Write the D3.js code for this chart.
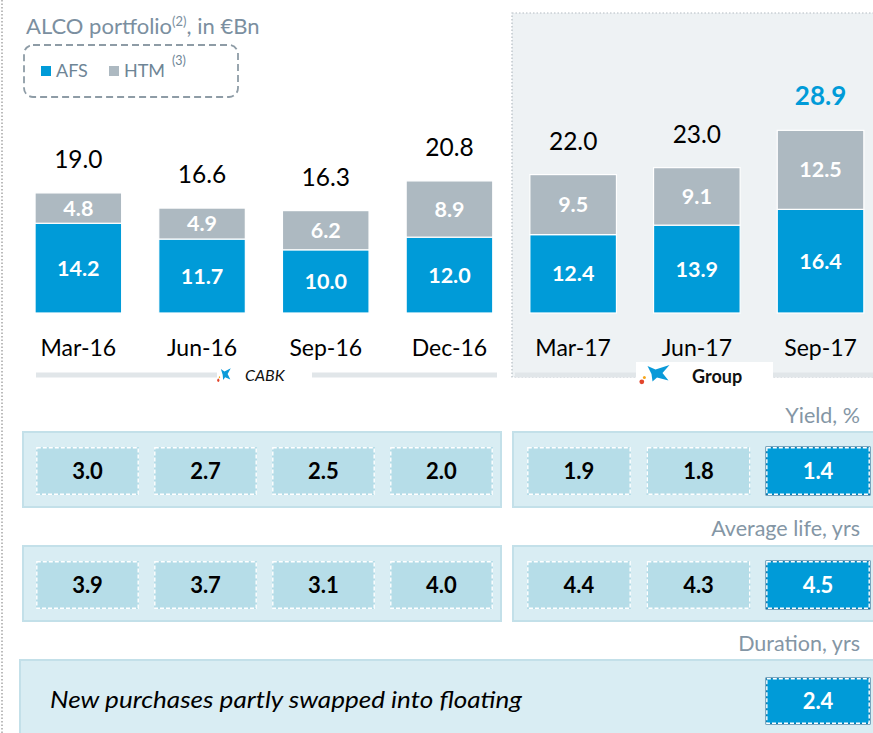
<!DOCTYPE html>
<html>
<head>
<meta charset="utf-8">
<script src="https://cdn.jsdelivr.net/npm/d3@7.9.0/dist/d3.min.js"></script>
<style>
  body { margin: 0; background: #fff; }
  svg { display: block; font-family: Lato, "Open Sans", sans-serif; }
</style>
</head>
<body>
<svg id="chart" width="873" height="733"></svg>
<script>
// data
const periods = ['Mar-16', 'Jun-16', 'Sep-16', 'Dec-16', 'Mar-17', 'Jun-17', 'Sep-17'];
const afs = [14.2, 11.7, 10.0, 12.0, 12.4, 13.9, 16.4];
const htm = [4.8, 4.9, 6.2, 8.9, 9.5, 9.1, 12.5];
const totals = [19.0, 16.6, 16.3, 20.8, 22.0, 23.0, 28.9];
const yieldPct = [3.0, 2.7, 2.5, 2.0, 1.9, 1.8, 1.4];
const avgLife = [3.9, 3.7, 3.1, 4.0, 4.4, 4.3, 4.5];
const duration = [2.4];
const cabkPeriods = periods.slice(0, 4);
const groupPeriods = periods.slice(4);

const BLUE = '#009bd8';
const GREY = '#adb9c1';

const svg = d3.select('#chart');

// left page border (dotted)
svg.append('line')
  .attr('x1', 2).attr('x2', 2).attr('y1', 0).attr('y2', 733)
  .attr('stroke', '#a6a6a6').attr('stroke-width', 1.5).attr('stroke-dasharray', '1.5,2');

// group background area
svg.append('rect')
  .attr('x', 512).attr('y', 13).attr('width', 380).attr('height', 364)
  .attr('fill', '#eef2f4')
  .attr('stroke', '#b4bcc2').attr('stroke-width', 1.2).attr('stroke-dasharray', '1.5,2');

// title + legend
const title = svg.append('text').attr('x', 26).attr('y', 34)
  .attr('fill', '#7b8fa0').attr('font-size', 22);
title.append('tspan').text('ALCO portfolio');
title.append('tspan').attr('font-size', 13).attr('dy', -8).text('(2)');
title.append('tspan').attr('dy', 8).text(', in €Bn');

svg.append('rect')
  .attr('x', 24).attr('y', 45).attr('width', 214).attr('height', 52).attr('rx', 9)
  .attr('fill', 'none').attr('stroke', '#8e9ca6').attr('stroke-width', 1.8)
  .attr('stroke-dasharray', '7,4');

const legendItems = [{ label: 'AFS', color: BLUE, x: 41 }, { label: 'HTM', color: GREY, x: 109 }];
legendItems.forEach(d => {
  svg.append('rect').attr('x', d.x).attr('y', 66).attr('width', 10).attr('height', 10).attr('fill', d.color);
  svg.append('text').attr('x', d.x + 15).attr('y', 77).attr('font-size', 18)
    .attr('fill', '#6e8596').text(d.label);
});
svg.append('text').attr('x', 172).attr('y', 65).attr('font-size', 12.5)
  .attr('fill', '#6e8596').text('(3)');

// scales
const x = d3.scaleBand()
  .domain(periods)
  .range([16.5, 882.4])
  .paddingInner(0.3)
  .paddingOuter(0.15);

const y = d3.scaleLinear().domain([0, 30]).range([313, 313 - 30 * 6.32]);

const stacked = periods.map((p, i) => ({ period: p, afs: afs[i], htm: htm[i], total: totals[i] }));
const series = d3.stack().keys(['afs', 'htm'])(stacked);
const colors = { afs: BLUE, htm: GREY };

series.forEach(s => {
  const g = svg.append('g');
  g.selectAll('rect')
    .data(s)
    .join('rect')
    .attr('x', d => x(d.data.period))
    .attr('y', d => y(d[1]))
    .attr('width', x.bandwidth())
    .attr('height', d => y(d[0]) - y(d[1]))
    .attr('fill', colors[s.key])
    .attr('stroke', '#fff')
    .attr('stroke-width', 1.2);
  g.selectAll('text')
    .data(s)
    .join('text')
    .attr('x', d => x(d.data.period) + x.bandwidth() / 2)
    .attr('y', d => (y(d[0]) + y(d[1])) / 2 + 7.5)
    .attr('text-anchor', 'middle')
    .attr('fill', '#fff')
    .attr('font-weight', 'bold')
    .attr('font-size', 21.5)
    .text(d => d3.format('.1f')(d.data[s.key]));
});

// totals above bars
const last = periods.length - 1;
svg.append('g').selectAll('text')
  .data(stacked)
  .join('text')
  .attr('x', d => x(d.period) + x.bandwidth() / 2)
  .attr('y', d => y(d.afs + d.htm) - 25)
  .attr('text-anchor', 'middle')
  .attr('font-size', (d, i) => i === last ? 26 : 24.5)
  .attr('font-weight', (d, i) => i === last ? 'bold' : 'normal')
  .attr('fill', (d, i) => i === last ? BLUE : '#000')
  .text(d => d3.format('.1f')(d.total));

// x axis labels
const xAxis = d3.axisBottom(x).tickSize(0).tickPadding(0);
svg.append('g')
  .attr('transform', 'translate(0,340)')
  .call(xAxis)
  .call(g => g.select('.domain').remove())
  .call(g => g.selectAll('text')
    .attr('font-family', 'Lato, sans-serif')
    .attr('font-size', 23)
    .attr('fill', '#000'));

// entity strips under the axis
const strips = [[36, 217], [312, 497], [515, 636], [773, 880]];
strips.forEach(([a, b]) => {
  svg.append('rect').attr('x', a).attr('y', 372.5).attr('width', b - a).attr('height', 5)
    .attr('fill', '#e1e6e9');
});
svg.append('rect').attr('x', 636).attr('y', 362).attr('width', 137).attr('height', 26).attr('fill', '#fff');

// small star logo, drawn in a 30x19 box
function logo(tx, ty, sx, sy) {
  const g = svg.append('g').attr('transform', `translate(${tx},${ty}) scale(${sx},${sy})`);
  g.append('path')
    .attr('d', 'M7.5,2 L15.5,5.5 L29.5,1 L22.5,9 L28.5,16.5 L17,13.5 L12.5,17.5 L11.5,10 Z')
    .attr('fill', '#0a9ad9');
  g.append('circle').attr('cx', 1.8).attr('cy', 17.8).attr('r', 2.4).attr('fill', '#e2442b');
  g.append('circle').attr('cx', 4.4).attr('cy', 13.5).attr('r', 1.5).attr('fill', '#f6a61c');
}
logo(217.5, 367.5, 0.45, 0.72);
logo(640, 364, 1, 1);

svg.append('text').attr('x', 245).attr('y', 381).attr('font-size', 16)
  .attr('font-style', 'italic').attr('fill', '#111').text('CABK');
svg.append('text').attr('x', 692).attr('y', 382.5).attr('font-size', 18)
  .attr('font-weight', 'bold').attr('fill', '#111').text('Group');

// KPI rows
const cabkBox = d3.scaleBand().domain(cabkPeriods).range([36, 493]).paddingInner(0.127);
const groupBox = d3.scaleBand().domain(groupPeriods).range([527, 870]).paddingInner(0.13);

function boxX(p) {
  return cabkPeriods.includes(p) ? cabkBox(p) : groupBox(p);
}

function box(g, bx, by, w, h, v, hi) {
  g.append('rect').attr('x', bx).attr('y', by).attr('width', w).attr('height', h)
    .attr('fill', hi ? BLUE : '#b6dde8')
    .attr('stroke', hi ? '#1a5f8a' : 'none').attr('stroke-width', 1);
  g.append('rect').attr('x', bx + 0.8).attr('y', by + 0.8).attr('width', w - 1.6).attr('height', h - 1.6)
    .attr('fill', 'none').attr('stroke', '#fff').attr('stroke-width', 1.4)
    .attr('stroke-dasharray', '4,2');
  g.append('text').attr('x', bx + w / 2).attr('y', by + h / 2 + 7.5)
    .attr('text-anchor', 'middle').attr('font-weight', 'bold').attr('font-size', 22)
    .attr('fill', hi ? '#fff' : '#000').text(d3.format('.1f')(v));
}

function kpiRow(values, label, labelY, top) {
  svg.append('text').attr('x', 860).attr('y', labelY).attr('text-anchor', 'end')
    .attr('font-size', 21.5).attr('fill', '#8496a5').text(label);
  [[23, 501], [513, 890]].forEach(([a, b]) => {
    svg.append('rect').attr('x', a).attr('y', top).attr('width', b - a).attr('height', 75)
      .attr('fill', '#d9edf3').attr('stroke', '#c3e0e9').attr('stroke-width', 2);
  });
  const g = svg.append('g');
  values.forEach((v, i) => {
    const p = periods[i];
    const w = cabkPeriods.includes(p) ? cabkBox.bandwidth() : groupBox.bandwidth();
    box(g, boxX(p), top + 15, w, 48, v, i === last);
  });
}

kpiRow(yieldPct, 'Yield, %', 423, 432);
kpiRow(avgLife, 'Average life, yrs', 536, 546);

// duration row
svg.append('text').attr('x', 860).attr('y', 651).attr('text-anchor', 'end')
  .attr('font-size', 21.5).attr('fill', '#8496a5').text('Duration, yrs');
svg.append('rect').attr('x', 20).attr('y', 660).attr('width', 870).attr('height', 90)
  .attr('fill', '#d9edf3').attr('stroke', '#c3e0e9').attr('stroke-width', 2);
svg.append('text').attr('x', 50).attr('y', 708).attr('font-size', 22.5)
  .attr('font-style', 'italic').attr('fill', '#000')
  .attr('textLength', 472).attr('lengthAdjust', 'spacingAndGlyphs')
  .text('New purchases partly swapped into floating');
const dg = svg.append('g');
duration.forEach(v => box(dg, groupBox(groupPeriods[2]), 678, groupBox.bandwidth(), 46, v, true));
</script>
</body>
</html>
